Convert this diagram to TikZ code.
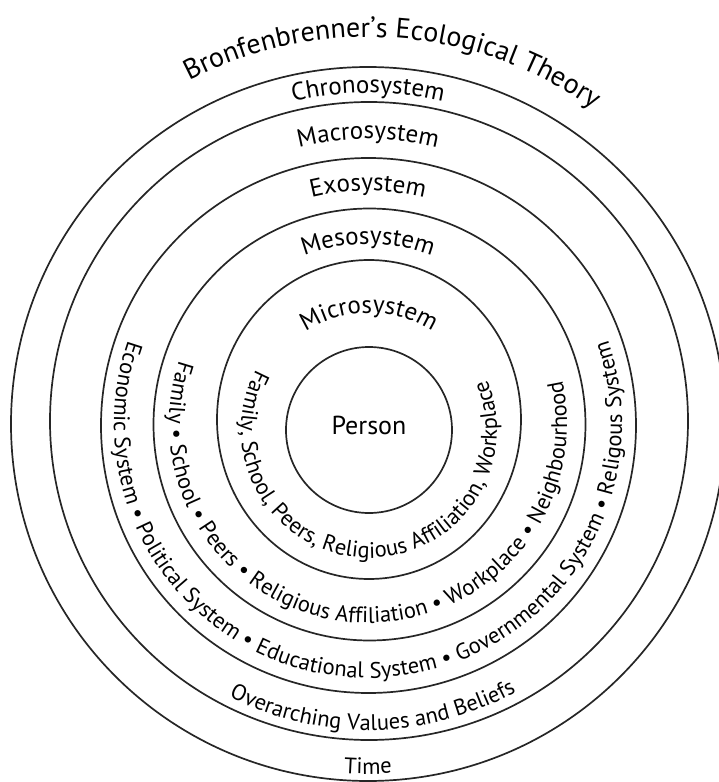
\documentclass[tikz,border=0pt]{standalone}
\usepackage{fontspec}
\setmainfont{PT Sans}
\usetikzlibrary{decorations.text,calc}
\begin{document}
\begin{tikzpicture}[x=1pt,y=1pt,
  ring/.style={line width=1.7pt, draw=black!85},
  toptext/.style={decorate, decoration={text along path, text align=center,
      text={|\fontsize{25}{25}\selectfont|#1}}},
  bandtext/.style={decorate, decoration={text along path, text align=center,
      text={|\fontsize{22.5}{22.5}\selectfont|#1}}},
  titletext/.style={decorate, decoration={text along path, text align=center,
      text={|\fontsize{28}{28}\selectfont|#1}}}
]
\useasboundingbox (-368,-358) rectangle (350,424);
% rings
\draw[ring] (0,0) circle[radius=357];
\draw[ring] (1,3) circle[radius=319];
\draw[ring] (0.5,-1.5) circle[radius=267.5];
\draw[ring] (1.5,-0.5) circle[radius=216];
\draw[ring] (1,4.5) ellipse[x radius=152, y radius=159.5];
\draw[ring] (1,-6) circle[radius=83];
\coordinate (pc) at (1,-6);
\node[font=\fontsize{26}{26}\selectfont] (person) at (1,-1) {Person};
% title
\path[titletext={Bronfenbrenner’s Ecological Theory}] (132:387) arc[start angle=132, end angle=40, radius=387];
% top labels
\path[toptext={Chronosystem}] (150:331) arc[start angle=150, end angle=30, radius=331];
\path[toptext={Macrosystem}] (150:285) arc[start angle=150, end angle=30, radius=285];
\path[toptext={Exosystem}] (150:233) arc[start angle=150, end angle=30, radius=233];
\path[toptext={Mesosystem}] (150:180) arc[start angle=150, end angle=30, radius=180];
\path[toptext={Microsystem}] ($(pc)+(160:117)$) arc[start angle=160, end angle=20, radius=117];
% bottom / band texts
\path[bandtext={Time}] (240:350) arc[start angle=240, end angle=300, radius=350];
\path[bandtext={Overarching Values and Beliefs}] (201:306) arc[start angle=201, end angle=341, radius=306];
\path[bandtext={Economic System • Political System • Educational System • Governmental System • Religous System}] (140:254) arc[start angle=140, end angle=400, radius=254];
\path[bandtext={Family • School • Peers • Religious Affiliation • Workplace • Neighbourhood}] (137:199) arc[start angle=137, end angle=397, radius=199];
\path[bandtext={Family, School, Peers, Religious Affiliation, Workplace}] ($(pc)+(137.5:128)$) arc[start angle=137.5, end angle=397.5, radius=128];
\end{tikzpicture}
\end{document}
